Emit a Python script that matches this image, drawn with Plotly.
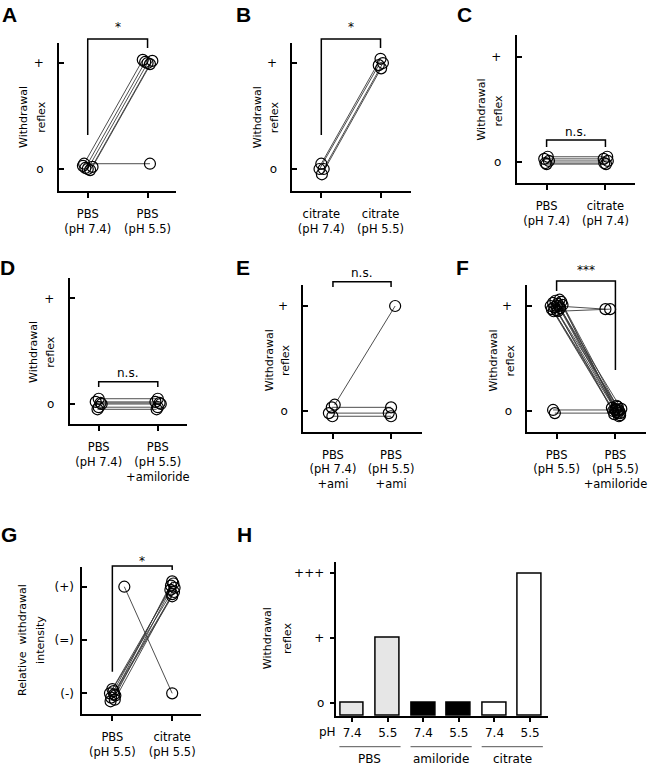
import plotly.graph_objects as go

# ---------------- data ----------------
A_TICKS = ["PBS<br>(pH 7.4)", "PBS<br>(pH 5.5)"]
A_PRE = [0.03, 0.01, 0.00, -0.01, 0.02, 0.05]
A_POST = [1.03, 1.01, 1.00, 0.99, 1.02, 0.05]
A_JIT_PRE = [-0.08, -0.04, 0.00, 0.04, 0.08, -0.06]
A_JIT_POST = [-0.08, -0.04, 0.00, 0.04, 0.08, 0.04]

B_TICKS = ["citrate<br>(pH 7.4)", "citrate<br>(pH 5.5)"]
B_PRE = [0.05, 0.00, 0.00, -0.05]
B_POST = [1.04, 0.98, 1.00, 0.95]
B_JIT_PRE = [0.00, -0.03, 0.04, 0.01]
B_JIT_POST = [0.00, -0.03, 0.04, 0.01]

C_TICKS = ["PBS<br>(pH 7.4)", "citrate<br>(pH 7.4)"]
C_PRE = [0.05, 0.03, 0.01, -0.01, -0.02]
C_POST = [0.05, 0.03, 0.01, -0.01, -0.02]
C_JIT_PRE = [0.02, -0.04, 0.04, -0.02, 0.00]
C_JIT_POST = [0.03, -0.03, 0.04, -0.02, 0.01]

D_TICKS = ["PBS<br>(pH 7.4)", "PBS<br>(pH 5.5)<br>+amiloride"]
D_PRE = [0.05, 0.02, 0.00, -0.03, -0.05, 0.01]
D_POST = [0.05, 0.02, 0.00, -0.03, -0.05, 0.01]
D_JIT_PRE = [0.00, -0.05, 0.05, 0.00, -0.02, 0.03]
D_JIT_POST = [0.00, -0.04, 0.05, 0.00, -0.02, 0.03]

E_TICKS = ["PBS<br>(pH 7.4)<br>+ami", "PBS<br>(pH 5.5)<br>+ami"]
E_PRE = [0.06, 0.035, -0.02, -0.05]
E_POST = [1.00, 0.035, -0.02, -0.05]
E_JIT_PRE = [0.03, -0.02, -0.07, -0.01]
E_JIT_POST = [0.07, 0.00, -0.04, 0.00]

F_TICKS = ["PBS<br>(pH 5.5)", "PBS<br>(pH 5.5)<br>+amiloride"]
F_PRE = [1.00, 0.97, 1.03, 0.99, 1.05, 0.96, 1.02, 1.00, 0.98, 1.04, 1.01, 0.95, 1.06,
         1.00, 0.95, 0.01, -0.02]
F_POST = [0.03, 0.00, -0.03, 0.02, -0.01, 0.04, 0.00, -0.04, 0.02, 0.05, -0.02, 0.01, -0.05,
          0.97, 0.97, 0.01, -0.02]
F_JIT_PRE = [-0.10, -0.08, -0.06, -0.04, -0.02, 0.00, 0.02, 0.04, 0.06, 0.08, 0.10, -0.05, 0.05,
             0.00, 0.02, -0.06, -0.03]
F_JIT_POST = [-0.06, -0.04, -0.02, 0.00, 0.02, 0.04, 0.06, 0.08, 0.10, 0.02, 0.04, 0.00, 0.06,
              -0.17, -0.09, 0.05, 0.08]

G_TICKS = ["PBS<br>(pH 5.5)", "citrate<br>(pH 5.5)"]
G_PRE = [-1.12, -1.08, -1.04, -1.00, -0.96, -0.92, -1.15, -1.02, 1.00]
G_POST = [0.86, 0.90, 0.94, 0.98, 1.02, 1.06, 1.10, 0.82, -1.00]
G_JIT_PRE = [0.04, -0.02, 0.05, -0.04, 0.02, 0.00, -0.03, 0.03, 0.20]
G_JIT_POST = [0.00, 0.03, -0.03, 0.04, -0.02, 0.02, 0.00, 0.00, 0.00]

REFLEX_TICKVALS = [0, 1]
REFLEX_TICKTEXT = ["o", "+"]
REL_TICKVALS = [-1, 0, 1]
REL_TICKTEXT = ["(-)", "(=)", "(+)"]

H_PH = ["7.4", "5.5", "7.4", "5.5", "7.4", "5.5"]
H_BAR_GROUP = ["PBS", "PBS", "amiloride", "amiloride", "citrate", "citrate"]
H_GROUPS = ["PBS", "amiloride", "citrate"]
H_REFLEX = [0, 1, 0, 0, 0, 2]
H_TICKVALS = [0, 1, 2]
H_TICKTEXT = ["o", "+", "+++"]

SIG_TEXT = {"A": "*", "B": "*", "C": "n.s.", "D": "n.s.", "E": "n.s.", "F": "***", "G": "*"}

# ---------------- layout / style ----------------
FONT = "DejaVu Sans"
GROUP_FILL = {"PBS": "#e6e6e6", "amiloride": "#000000", "citrate": "#ffffff"}

OX, OY = 0, 0
FW, FH = 650, 766

# pixel boxes in window pixels (left, right, top, bottom) and axis ranges
P = {
    "A": dict(box=(59.3, 177, 43, 191), xr=(-0.478, 1.483), yr=(-0.2075, 1.189),
              letter=(10, 14.5), yt=[("Withdrawal", 23, 117), ("reflex", 41, 117)],
              br=(39, 135, 48), sig=27),
    "B": dict(box=(293.3, 412, 43, 191), xr=(-0.488, 1.51), yr=(-0.2075, 1.189),
              letter=(244, 14.5), yt=[("Withdrawal", 258, 117), ("reflex", 275, 117)],
              br=(39, 135, 48), sig=27),
    "C": dict(box=(518.3, 636.7, 35, 183), xr=(-0.508, 1.498), yr=(-0.2, 1.21),
              letter=(466, 14.5), yt=[("Withdrawal", 483, 110), ("reflex", 501, 110)],
              br=(140, 147, 147), sig=132),
    "D": dict(box=(70, 188, 278, 424), xr=(-0.489, 1.501), yr=(-0.189, 1.192),
              letter=(8, 267.5), yt=[("Withdrawal", 33, 352), ("reflex", 50, 352)],
              br=(381.7, 387, 387), sig=373),
    "E": dict(box=(304.3, 423, 285, 431.7), xr=(-0.509, 1.527), yr=(-0.197, 1.2),
              letter=(244, 267.5), yt=[("Withdrawal", 270, 360), ("reflex", 286, 360)],
              br=(281.7, 287, 287), sig=273),
    "F": dict(box=(529, 648, 285, 431.7), xr=(-0.497, 1.52), yr=(-0.197, 1.2),
              letter=(464, 267.5), yt=[("Withdrawal", 495, 360), ("reflex", 512, 360)],
              br=(281, 291, 370), sig=270),
    "G": dict(box=(82.7, 201.7, 566.7, 714), xr=(-0.5, 1.483), yr=(-1.388, 1.375),
              letter=(9, 534), yt=[("Relative  withdrawal", 22, 640), ("intensity", 40, 640)],
              br=(566, 671.7, 570), sig=561),
    "H": dict(box=(336.7, 550, 561.7, 716), xr=(-0.465, 5.513), yr=(-0.206, 2.179),
              letter=(245, 534), yt=[("Withdrawal", 268, 638), ("reflex", 288, 638)]),
}
ORDER = ["A", "B", "C", "D", "E", "F", "G", "H"]


def px_x(px):
    return (px - OX) / FW


def px_y(py):
    return 1 - (py - OY) / FH


def data_x_to_paper(key, v):
    l, r, _, _ = P[key]["box"]
    x0, x1 = P[key]["xr"]
    return px_x(l + (v - x0) / (x1 - x0) * (r - l))


PAIRED = {
    "A": (A_TICKS, A_PRE, A_POST, A_JIT_PRE, A_JIT_POST),
    "B": (B_TICKS, B_PRE, B_POST, B_JIT_PRE, B_JIT_POST),
    "C": (C_TICKS, C_PRE, C_POST, C_JIT_PRE, C_JIT_POST),
    "D": (D_TICKS, D_PRE, D_POST, D_JIT_PRE, D_JIT_POST),
    "E": (E_TICKS, E_PRE, E_POST, E_JIT_PRE, E_JIT_POST),
    "F": (F_TICKS, F_PRE, F_POST, F_JIT_PRE, F_JIT_POST),
    "G": (G_TICKS, G_PRE, G_POST, G_JIT_PRE, G_JIT_POST),
}

fig = go.Figure()
shapes = []
annotations = []
lay = {}

for i, key in enumerate(ORDER):
    n = i + 1
    sfx = "" if n == 1 else str(n)
    xa, ya = "x" + sfx, "y" + sfx
    spec = P[key]
    l, r, t, b = spec["box"]
    xaxis = dict(domain=[px_x(l), px_x(r)], range=list(spec["xr"]), anchor=ya,
                 showline=True, linewidth=2, linecolor="black", showgrid=False, zeroline=False,
                 ticks="outside", ticklen=5, tickwidth=1.5, tickcolor="black", tickangle=0,
                 tickfont=dict(family=FONT, size=11.5, color="black"), ticklabelstandoff=6,
                 ticklabeloverflow="allow", fixedrange=True)
    yaxis = dict(domain=[px_y(b), px_y(t)], range=list(spec["yr"]), anchor=xa,
                 showline=True, linewidth=2, linecolor="black", showgrid=False, zeroline=False,
                 ticks="inside", ticklen=5, tickwidth=1.5, tickcolor="black",
                 tickfont=dict(family=FONT, size=12, color="black"), fixedrange=True)
    if key in PAIRED:
        ticks_text, pre, post, jpre, jpost = PAIRED[key]
        xaxis.update(tickvals=[0, 1], ticktext=ticks_text)
        if key == "G":
            yaxis.update(tickvals=REL_TICKVALS, ticktext=REL_TICKTEXT, ticklabelstandoff=4)
        else:
            yaxis.update(tickvals=REFLEX_TICKVALS, ticktext=REFLEX_TICKTEXT, ticklabelstandoff=11)
        xs, ys = [], []
        for a in range(len(pre)):
            xs += [0 + jpre[a], 1 + jpost[a], None]
            ys += [pre[a], post[a], None]
        fig.add_trace(go.Scatter(
            x=xs, y=ys, xaxis=xa, yaxis=ya, mode="lines+markers",
            line=dict(color="#3a3a3a", width=0.9),
            marker=dict(symbol="circle-open", size=11, color="black", line=dict(width=1.2)),
            showlegend=False, hoverinfo="skip", cliponaxis=False))
        # significance bracket
        top, lleg, rleg = spec["br"]
        x0p, x1p = data_x_to_paper(key, 0), data_x_to_paper(key, 1)
        shapes.append(dict(type="path", xref="paper", yref="paper",
                           path=f"M {x0p} {px_y(lleg)} L {x0p} {px_y(top)} L {x1p} {px_y(top)} L {x1p} {px_y(rleg)}",
                           line=dict(color="black", width=1.5)))
        annotations.append(dict(text=SIG_TEXT[key], x=(x0p + x1p) / 2, y=px_y(spec["sig"]),
                                xref="paper", yref="paper", showarrow=False,
                                font=dict(family=FONT, size=12, color="#000000"),
                                xanchor="center", yanchor="middle"))
    else:
        # panel H bar chart; bars rise from the bottom of the axis
        y0 = spec["yr"][0]
        xs = list(range(len(H_REFLEX)))
        fig.add_trace(go.Bar(
            x=xs, y=[v - y0 for v in H_REFLEX], base=y0, xaxis=xa, yaxis=ya, width=0.67,
            marker=dict(color=[GROUP_FILL[g] for g in H_BAR_GROUP],
                        line=dict(color="black", width=1.5)),
            showlegend=False, hoverinfo="skip"))
        xaxis.update(tickvals=xs, ticktext=H_PH, ticklen=4, ticklabelstandoff=1,
                     tickfont=dict(family=FONT, size=12, color="black"))
        yaxis.update(tickvals=H_TICKVALS, ticktext=H_TICKTEXT, ticks="outside", ticklen=4,
                     ticklabelstandoff=3)
        annotations.append(dict(text="pH", x=px_x(328.3), y=px_y(731.7), xref="paper", yref="paper",
                                showarrow=False, font=dict(family=FONT, size=12, color="black"),
                                xanchor="center", yanchor="middle"))
        for g in H_GROUPS:
            members = [k for k, bg in enumerate(H_BAR_GROUP) if bg == g]
            c = sum(members) / len(members)
            xl = data_x_to_paper(key, c - 0.86)
            xr_ = data_x_to_paper(key, c + 0.86)
            shapes.append(dict(type="line", xref="paper", yref="paper", x0=xl, x1=xr_,
                               y0=px_y(746.7), y1=px_y(746.7), line=dict(color="#555555", width=1)))
            annotations.append(dict(text=g, x=data_x_to_paper(key, c), y=px_y(758.5),
                                    xref="paper", yref="paper", showarrow=False,
                                    font=dict(family=FONT, size=12, color="black"),
                                    xanchor="center", yanchor="middle"))
    lay["xaxis" + sfx] = xaxis
    lay["yaxis" + sfx] = yaxis
    # panel letter
    lx, ly = spec["letter"]
    annotations.append(dict(text="<b>" + key + "</b>", x=px_x(lx), y=px_y(ly), xref="paper", yref="paper",
                            showarrow=False, font=dict(family="Liberation Sans", size=21, color="black"),
                            xanchor="center", yanchor="middle"))
    # y titles
    for txt, tx, ty in spec["yt"]:
        annotations.append(dict(text=txt, x=px_x(tx), y=px_y(ty), xref="paper", yref="paper",
                                showarrow=False, textangle=-90,
                                font=dict(family=FONT, size=11, color="black"),
                                xanchor="center", yanchor="middle"))

fig.update_layout(
    width=FW, height=FH, margin=dict(l=0, r=0, t=0, b=0),
    paper_bgcolor="white", plot_bgcolor="white",
    shapes=shapes, annotations=annotations, bargap=0, **lay)

# remove the default 8px page margin so the figure fills the window exactly
fig.write_html("out.html", config={"displayModeBar": False},
               post_script="document.body.style.margin='0';document.body.style.overflow='hidden';")
